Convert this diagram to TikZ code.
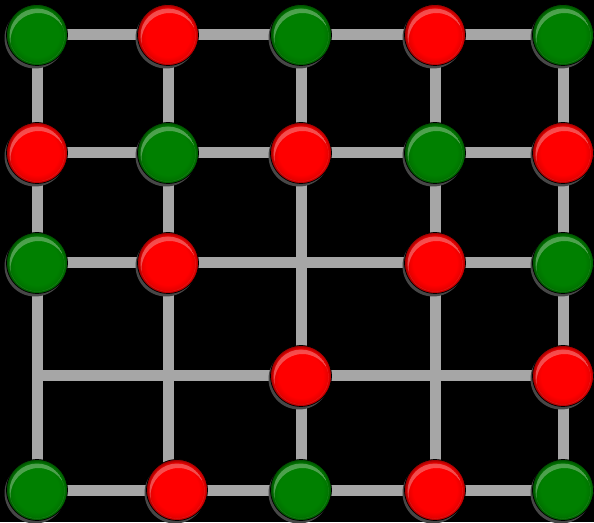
\documentclass[tikz,border=0pt]{standalone}
\usetikzlibrary{shadows}
\definecolor{linegray}{RGB}{166,166,166}
\definecolor{ballred}{RGB}{255,0,0}
\definecolor{ballgreen}{RGB}{0,128,0}
\pgfdeclareradialshading{redballshade}{\pgfpoint{0bp}{0bp}}{color(0bp)=(ballred); color(18bp)=(ballred); color(22.5bp)=(ballred!90!black); color(25bp)=(ballred!60!black); color(50bp)=(ballred!60!black)}
\pgfdeclareradialshading{greenballshade}{\pgfpoint{0bp}{0bp}}{color(0bp)=(ballgreen); color(18bp)=(ballgreen); color(22.5bp)=(ballgreen!90!black); color(25bp)=(ballgreen!60!black); color(50bp)=(ballgreen!60!black)}
\pgfdeclarelayer{background}
\pgfsetlayers{background,main}
\tikzset{
  ballbase/.style={circle, minimum size=61pt, inner sep=0pt, outer sep=-1pt,
    draw=black, line width=0.7pt,
    drop shadow={shadow xshift=-2pt, shadow yshift=-3pt, fill=black!72, opacity=1},
    path picture={
      \begin{scope}
        \clip ([yshift=-1pt]path picture bounding box.center) circle (27.5pt);
        \fill[white, opacity=0.3, even odd rule]
          ([yshift=-1pt]path picture bounding box.center) circle (27.5pt)
          ([yshift=-6pt,xshift=1.5pt]path picture bounding box.center) circle (28pt);
      \end{scope}
    }},
  redball/.style={ballbase, shading=redballshade},
  greenball/.style={ballbase, shading=greenballshade},
  gridline/.style={draw=linegray, line width=11pt}
}
\begin{document}
\begin{tikzpicture}[x=1pt,y=1pt]
\useasboundingbox (0,0) rectangle (594,522);
% row 1
\node[greenball] (n11) at (37,487) {};
\node[redball]   (n12) at (168,487) {};
\node[greenball] (n13) at (301,487) {};
\node[redball]   (n14) at (435,487) {};
\node[greenball] (n15) at (563,487) {};
% row 2
\node[redball]   (n21) at (37,369) {};
\node[greenball] (n22) at (168,369) {};
\node[redball]   (n23) at (301,369) {};
\node[greenball] (n24) at (435,369) {};
\node[redball]   (n25) at (563,369) {};
% row 3
\node[greenball] (n31) at (37,259) {};
\node[redball]   (n32) at (168,259) {};
\coordinate      (c33) at (301,259);
\node[redball]   (n34) at (435,259) {};
\node[greenball] (n35) at (563,259) {};
% row 4
\coordinate      (c41) at (37,146);
\coordinate      (c42) at (168,146);
\node[redball]   (n43) at (301,146) {};
\coordinate      (c44) at (435,146);
\node[redball]   (n45) at (563,146) {};
% row 5
\node[greenball] (n51) at (37,32) {};
\node[redball]   (n52) at (177,32) {};
\node[greenball] (n53) at (301,32) {};
\node[redball]   (n54) at (435,32) {};
\node[greenball] (n55) at (563,32) {};
\coordinate (c52) at ([yshift=-2pt]n32 |- n52.north);
\begin{pgfonlayer}{background}
\fill[black] (0,0) rectangle (594,522);
% horizontal lines
\draw[gridline] (n11) -- (n12) (n12) -- (n13) (n13) -- (n14) (n14) -- (n15);
\draw[gridline] (n21) -- (n22) (n22) -- (n23) (n23) -- (n24) (n24) -- (n25);
\draw[gridline] (n31) -- (n32) (n34) -- (n35);
\draw[gridline] (n32) -- (c33) -- (n34);
\draw[gridline] (c41) -- (c42) -- (n43);
\draw[gridline] (n43) -- (c44) -- (n45);
\draw[gridline] (n51) -- (n52) (n52) -- (n53) (n53) -- (n54) (n54) -- (n55);
% vertical lines
\draw[gridline] (n11) -- (n21) (n21) -- (n31);
\draw[gridline] (n31) -- (c41) -- (n51);
\draw[gridline] (n12) -- (n22) (n22) -- (n32);
\draw[gridline] (n32) -- (c42) -- (c52);
\draw[gridline] (n13) -- (n23);
\draw[gridline] (n23) -- (c33) -- (n43);
\draw[gridline] (n43) -- (n53);
\draw[gridline] (n14) -- (n24) (n24) -- (n34);
\draw[gridline] (n34) -- (c44) -- (n54);
\draw[gridline] (n15) -- (n25) (n25) -- (n35) (n35) -- (n45) (n45) -- (n55);
\end{pgfonlayer}
\end{tikzpicture}
\end{document}
